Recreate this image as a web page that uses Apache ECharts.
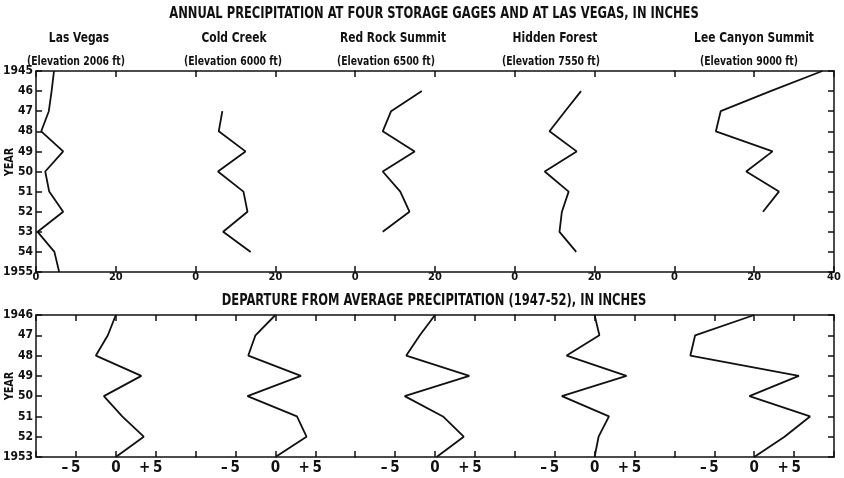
<!DOCTYPE html>
<html>
<head>
<meta charset="utf-8">
<script src="https://cdn.jsdelivr.net/npm/echarts/dist/echarts.min.js"></script>
<style>
  html, body { margin: 0; padding: 0; background: #fff; }
  #chart { width: 844px; height: 478px; }
</style>
</head>
<body>
<div id="chart"></div>
<script>
// Stations, lowest to highest
const stations = ['Las Vegas', 'Cold Creek', 'Red Rock Summit', 'Hidden Forest', 'Lee Canyon Summit'];
const elevations = ['(Elevation 2006 ft)', '(Elevation 6000 ft)', '(Elevation 6500 ft)', '(Elevation 7550 ft)', '(Elevation 9000 ft)'];

// Annual precipitation, inches, by year of record
const lasVegasYears = [1945, 1946, 1947, 1948, 1949, 1950, 1951, 1952, 1953, 1954, 1955];
const lasVegasInches = [4.5, 3.9, 3.2, 1.3, 6.8, 2.3, 3.3, 6.8, 0.4, 4.6, 5.8];
const coldCreekYears = [1947, 1948, 1949, 1950, 1951, 1952, 1953, 1954];
const coldCreekInches = [6.7, 5.8, 12.5, 5.6, 12.0, 13.0, 6.9, 13.8];
const redRockYears = [1946, 1947, 1948, 1949, 1950, 1951, 1952, 1953];
const redRockInches = [16.7, 9.0, 6.9, 14.9, 6.9, 11.3, 13.6, 6.9];
const hiddenForestYears = [1946, 1947, 1948, 1949, 1950, 1951, 1952, 1953, 1954];
const hiddenForestInches = [16.6, 12.6, 8.7, 15.5, 7.5, 13.5, 11.8, 11.2, 15.4];
const leeCanyonYears = [1945, 1946, 1947, 1948, 1949, 1950, 1951, 1952];
const leeCanyonInches = [37.1, 24.1, 11.6, 10.4, 24.6, 18.0, 26.2, 22.2];

// Departure from the 1947-52 average, inches
const departureYears = [1946, 1947, 1948, 1949, 1950, 1951, 1952, 1953];
const lasVegasDeparture = [0, -1.0, -2.5, 3.2, -1.5, 0.8, 3.5, 0];
const coldCreekDeparture = [0, -2.5, -3.4, 3.2, -3.5, 2.7, 3.9, 0];
const redRockDeparture = [0, -1.9, -3.6, 4.3, -3.8, 1.0, 3.6, 0.2];
const hiddenForestDeparture = [0, 0.6, -3.5, 4.0, -4.1, 1.8, 0.5, 0];
const leeCanyonDeparture = [0, -7.4, -8.0, 5.6, -0.6, 7.0, 3.8, 0];

// Axis ranges and tick steps
const annualRange = [0, 40], annualStep = 20;
const departureRange = [-10, 10], departureStep = 5;
const annualYearRange = [1945, 1955];
const departureYearRange = [1946, 1953];

const annualSets = [
  [lasVegasYears, lasVegasInches],
  [coldCreekYears, coldCreekInches],
  [redRockYears, redRockInches],
  [hiddenForestYears, hiddenForestInches],
  [leeCanyonYears, leeCanyonInches]
];
const departureSets = [lasVegasDeparture, coldCreekDeparture, redRockDeparture, hiddenForestDeparture, leeCanyonDeparture];

const FONT = "'Liberation Sans Narrow', 'DejaVu Sans Condensed', 'Arial Narrow', sans-serif";
const INK = '#111';
const PLOT_LEFT = 36, PLOT_RIGHT = 834;
const PANEL_W = (PLOT_RIGHT - PLOT_LEFT) / stations.length;
const TOP_Y = 71, TOP_H = 201;
const BOT_Y = 315, BOT_H = 142;

const lineStyle = { color: INK, width: 1.5 };
const frameLine = { show: true, onZero: false, lineStyle };
const frameTick = { show: true, inside: true, length: 6, lineStyle };

const grids = [], xAxes = [], yAxes = [], series = [];

function yearLabel(first, last) {
  return v => (v === first || v === last) ? String(v) : String(v).slice(2);
}

// Departure tick labels: sign hangs to the left so the digit sits on the tick
function departureLabel(v) {
  if (v === -5) return '\u2013\u20095{pad| }';
  if (v === 5) return '+\u20095{pad| }';
  if (v === 0) return '0';
  return '';
}

function addPanel(row, i) {
  const g = grids.length;
  const isTop = row === 0;
  grids.push({
    left: PLOT_LEFT + i * PANEL_W,
    top: isTop ? TOP_Y : BOT_Y,
    width: PANEL_W,
    height: isTop ? TOP_H : BOT_H
  });
  const range = isTop ? annualRange : departureRange;
  const step = isTop ? annualStep : departureStep;
  const last = i === stations.length - 1;
  // bottom axis with labels
  xAxes.push({
    type: 'value', gridIndex: g, position: 'bottom',
    min: range[0], max: range[1], interval: step,
    axisLine: frameLine,
    axisTick: frameTick,
    splitLine: { show: false },
    axisLabel: isTop ? {
      show: true, margin: 0, color: INK, fontFamily: FONT, fontWeight: 'bold', fontSize: 11,
      showMinLabel: true, showMaxLabel: true,
      formatter: v => (v === range[1] && !last) ? '' : String(v)
    } : {
      show: true, margin: 4, color: INK, fontFamily: FONT, fontWeight: 'bold', fontSize: 15,
      showMinLabel: true, showMaxLabel: true,
      formatter: departureLabel,
      rich: { pad: { width: 10, fontSize: 15 } }
    }
  });
  // top frame axis, ticks only
  xAxes.push({
    type: 'value', gridIndex: g, position: 'top',
    min: range[0], max: range[1], interval: step,
    axisLine: frameLine,
    axisTick: frameTick,
    axisLabel: { show: false },
    splitLine: { show: false }
  });
  const yr = isTop ? annualYearRange : departureYearRange;
  yAxes.push({
    type: 'value', gridIndex: g, position: 'left', inverse: true,
    min: yr[0], max: yr[1], interval: 1,
    show: i === 0,
    axisLine: frameLine,
    axisTick: frameTick,
    splitLine: { show: false },
    axisLabel: {
      show: true, margin: 3, color: INK, fontFamily: FONT, fontWeight: 'bold', fontSize: 12,
      showMinLabel: true, showMaxLabel: true,
      formatter: yearLabel(yr[0], yr[1])
    }
  });
  yAxes.push({
    type: 'value', gridIndex: g, position: 'right', inverse: true,
    min: yr[0], max: yr[1], interval: 1,
    show: last,
    axisLine: frameLine,
    axisTick: frameTick,
    axisLabel: { show: false },
    splitLine: { show: false }
  });

  let data;
  if (isTop) {
    const [yrs, vals] = annualSets[i];
    data = vals.map((v, k) => [v, yrs[k]]);
  } else {
    data = departureSets[i].map((v, k) => [v, departureYears[k]]);
  }
  series.push({
    type: 'line', name: stations[i],
    xAxisIndex: 2 * g, yAxisIndex: 2 * g,
    data, symbol: 'none', clip: false,
    lineStyle: { color: INK, width: 1.8 },
    z: 3
  });
}

for (let r = 0; r < 2; r++) for (let i = 0; i < stations.length; i++) addPanel(r, i);

// Headings (condensed lettering)
const nameCenters = [79, 234, 393, 555, 754];
const elevCenters = [76, 233, 386, 551, 749];
const graphics = [];
function text(x, y, str, size, sx, extra) {
  graphics.push(Object.assign({
    type: 'text', x, y, scaleX: sx,
    style: {
      text: str, fill: INK, font: `bold ${size}px ${FONT}`,
      textAlign: 'center', textVerticalAlign: 'middle'
    }
  }, extra || {}));
}
text(434, 14, 'ANNUAL PRECIPITATION AT FOUR STORAGE GAGES AND AT LAS VEGAS, IN INCHES', 16, 0.80);
stations.forEach((s, i) => text(nameCenters[i], 38, s, 14, 0.85));
elevations.forEach((s, i) => text(elevCenters[i], 62, s, 12, 0.86));
text(434, 301, 'DEPARTURE FROM AVERAGE PRECIPITATION (1947-52), IN INCHES', 16, 0.80);
text(10, 162, 'YEAR', 12, 0.9, { rotation: Math.PI / 2 });
text(10, 386, 'YEAR', 12, 0.9, { rotation: Math.PI / 2 });

const chart = echarts.init(document.getElementById('chart'), null, { renderer: 'canvas' });
chart.setOption({
  animation: false,
  backgroundColor: '#fff',
  grid: grids,
  xAxis: xAxes,
  yAxis: yAxes,
  series,
  graphic: graphics
});
</script>
</body>
</html>
